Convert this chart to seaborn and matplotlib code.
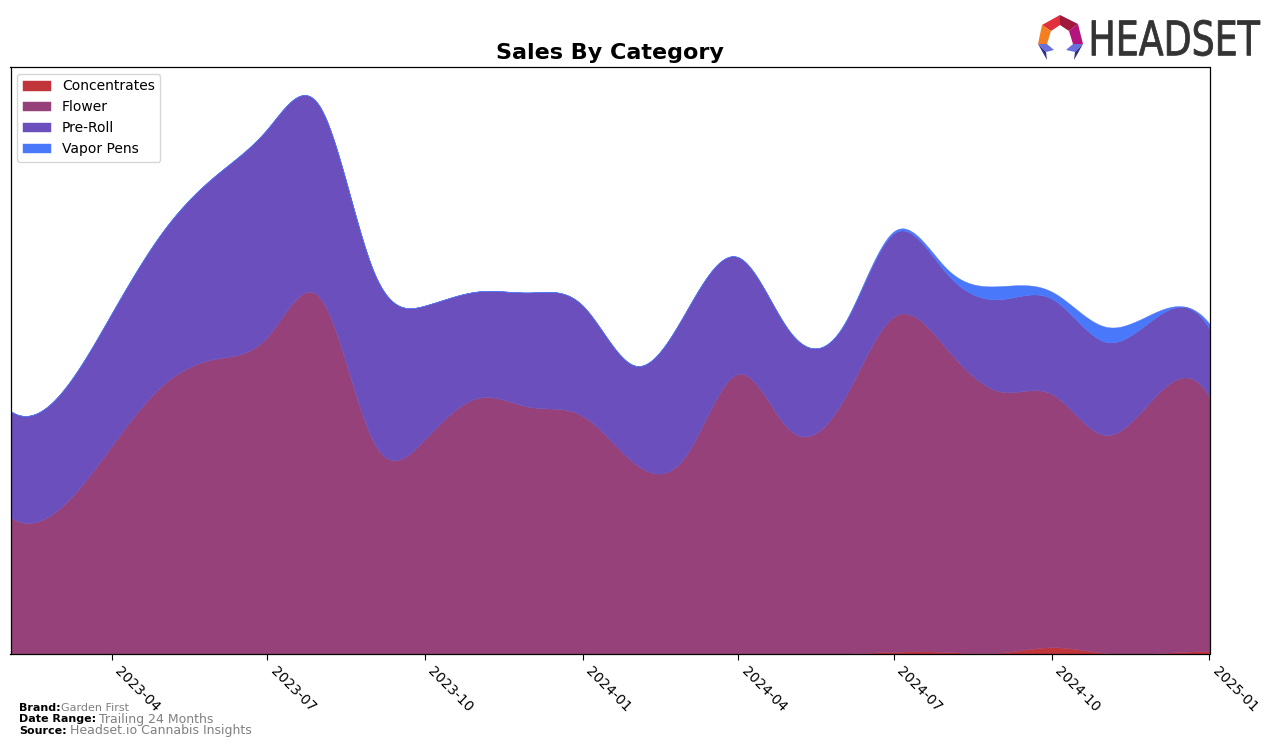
import numpy as np
import pandas as pd
import matplotlib
matplotlib.use("Agg")
import matplotlib.pyplot as plt
import matplotlib.dates as mdates
from matplotlib.patches import Polygon, PathPatch
from matplotlib.textpath import TextPath
from matplotlib.font_manager import FontProperties
from matplotlib.transforms import Affine2D
import seaborn as sns

# ---------------- data (monthly, relative sales) ----------------
months = pd.date_range("2023-02-01", "2025-01-01", freq="MS")
categories = ["Concentrates", "Flower", "Pre-Roll", "Vapor Pens"]
concentrates = [0, 0, 0, 0, 0, 0, 0, 0, 0, 0, 0, 0, 0, 0, 0, 0,
                0.3, 2.2, 2.0, 1.3, 6.7, 1.0, 0.7, 2.7]
flower = [136, 144, 207, 268, 294, 316, 354, 211, 214, 255, 246, 237,
          189, 197, 279, 223, 252, 334, 301, 260, 252, 217, 257, 253]
preroll = [106, 113, 132, 153, 183, 207, 190, 170, 133, 106, 114, 110,
           98, 143, 116, 98, 74, 83, 75, 92, 95, 93, 78, 68]
vapor = [0, 0, 0, 0, 0, 0, 0, 0, 0, 0, 0, 0, 0, 0, 0, 0,
         0.5, 2, 5, 13, 7, 15, 5, 5]
tick_months = ["2023-04", "2023-07", "2023-10", "2024-01", "2024-04",
               "2024-07", "2024-10", "2025-01"]
colors = ["#c1343a", "#96417a", "#6a4fbd", "#4a78fb"]


def smooth(x, y, xs):
    """not-a-knot cubic spline through the monthly points (for drawing only)"""
    x = np.asarray(x, float)
    y = np.asarray(y, float)
    n = len(x)
    h = np.diff(x)
    A = np.zeros((n, n))
    b = np.zeros(n)
    A[0, 0], A[0, 1], A[0, 2] = h[1], -(h[0] + h[1]), h[0]
    for i in range(1, n - 1):
        A[i, i - 1] = h[i - 1]
        A[i, i] = 2 * (h[i - 1] + h[i])
        A[i, i + 1] = h[i]
        b[i] = 6 * ((y[i + 1] - y[i]) / h[i] - (y[i] - y[i - 1]) / h[i - 1])
    A[n - 1, n - 3], A[n - 1, n - 2], A[n - 1, n - 1] = h[n - 2], -(h[n - 3] + h[n - 2]), h[n - 3]
    M = np.linalg.solve(A, b)
    i = np.clip(np.searchsorted(x, xs, side="right") - 1, 0, n - 2)
    hi = h[i]
    s = (M[i] * (x[i + 1] - xs) ** 3 / (6 * hi) + M[i + 1] * (xs - x[i]) ** 3 / (6 * hi)
         + (y[i] / hi - M[i] * hi / 6) * (x[i + 1] - xs)
         + (y[i + 1] / hi - M[i + 1] * hi / 6) * (xs - x[i]))
    return np.clip(s, 0, None)


sns.set_style("white")
plt.rcParams["font.family"] = ["DejaVu Sans"]
plt.rcParams["text.color"] = "black"
plt.rcParams["axes.edgecolor"] = "black"
plt.rcParams["axes.linewidth"] = 0.9
plt.rcParams["xtick.color"] = "black"

fig = plt.figure(figsize=(12.76, 7.47), dpi=100)
W, H = 1276, 747
ax = fig.add_axes([10.5 / W, 1 - 654 / H, (1209.5 - 10.5) / W, (654 - 67) / H])

xnum = mdates.date2num(months.to_pydatetime())
xs = np.linspace(xnum[0], xnum[-1], 800)
series = [smooth(xnum, s, xs) for s in (concentrates, flower, preroll, vapor)]

ax.stackplot(xs, *series, colors=colors, labels=categories, linewidth=0.3,
             edgecolor="face")
total = np.sum(series, axis=0)
ax.set_ylim(0, total.max() * 1.05)
ax.set_xlim(xnum[0], xnum[-1])
ax.set_yticks([])
ticks = mdates.date2num(pd.to_datetime([m + "-01" for m in tick_months]).to_pydatetime())
ax.set_xticks(ticks)
ax.set_xticklabels(tick_months, rotation=-45, ha="left", fontsize=10)
ax.tick_params(axis="x", bottom=True, length=4, width=0.8, color="black", pad=3)
ax.set_title("Sales By Category", fontsize=16, fontweight="bold", pad=6)

leg = ax.legend(loc="upper left", fontsize=10, frameon=True, handlelength=2,
                borderaxespad=0.5)
leg.get_frame().set_edgecolor("#cccccc")

# ---------------- footer ----------------
def ftext(px, py, s, **kw):
    fig.text(px / W, 1 - py / H, s, va="center", **kw)

ftext(19, 708, "Brand:", fontsize=8, fontweight="bold")
ftext(61, 708, "Garden First", fontsize=8, color="gray")
ftext(19, 719.5, "Date Range:", fontsize=8, fontweight="bold")
ftext(99, 719, "Trailing 24 Months", fontsize=9, color="gray")
ftext(19, 730.5, "Source:", fontsize=8, fontweight="bold")
ftext(70, 730.5, "Headset.io Cannabis Insights", fontsize=9, color="gray")

# ---------------- logo ----------------
tp = TextPath((0, 0), "HEADSET", size=1, prop=FontProperties(family="DejaVu Sans"))
ext = tp.get_extents()
x0, y0, x1, y1 = 1092, 56, 1260, 20  # pixel box (y down)
sx = (x1 - x0) / ext.width / W
sy = (y0 - y1) / ext.height / H
tr = Affine2D().translate(-ext.x0, -ext.y0).scale(sx, sy).translate(x0 / W, 1 - y0 / H) + fig.transFigure
fig.patches.append(PathPatch(tp, transform=tr, facecolor="#333333", edgecolor="#333333", lw=0.6))

def logo_poly(pts, c):
    p = [(px / W, 1 - py / H) for px, py in pts]
    fig.patches.append(Polygon(p, closed=True, transform=fig.transFigure,
                               facecolor=c, edgecolor="none"))

logo_poly([(1042, 25), (1060, 15), (1060, 25), (1051, 31)], "#e0303c")
logo_poly([(1060, 15), (1078, 24), (1069, 31), (1060, 25)], "#a0183c")
logo_poly([(1078, 24), (1083, 44), (1073, 44), (1069, 31)], "#b4157c")
logo_poly([(1042, 25), (1051, 31), (1047, 44), (1038, 44)], "#f47f20")
logo_poly([(1038, 44), (1047, 44), (1054, 50), (1046, 52)], "#6a6fdc")
logo_poly([(1038, 44), (1046, 52), (1047, 60)], "#2b2d8a")
logo_poly([(1083, 44), (1073, 44), (1066, 50), (1075, 52)], "#6a6fdc")
logo_poly([(1083, 44), (1075, 52), (1074, 60)], "#2b2d8a")

fig.savefig("out.png", dpi=100)
